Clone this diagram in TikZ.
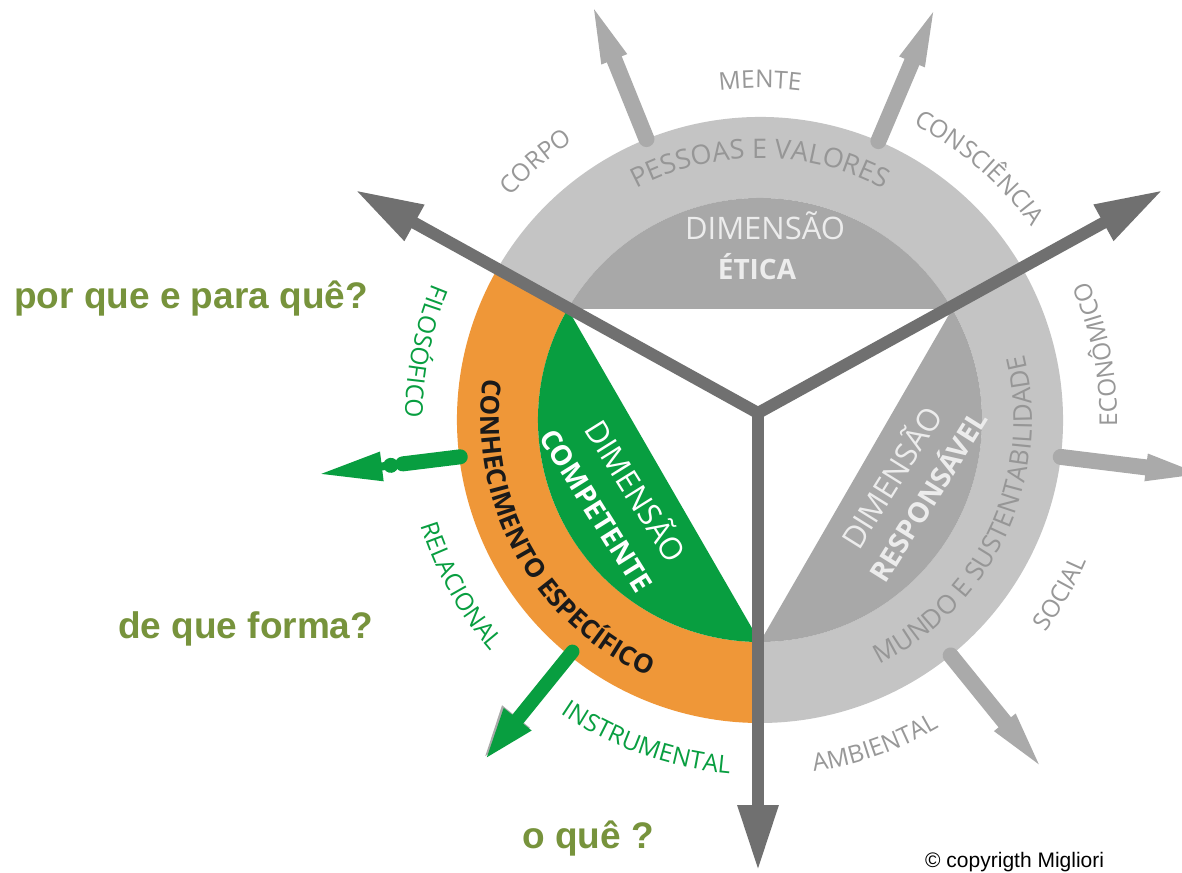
\documentclass[tikz,border=0pt]{standalone}
\usepackage{fontspec}
\setmainfont{Open Sans}
\newfontfamily\osf{Open Sans}
\newfontfamily\arialf{Liberation Sans}
\usetikzlibrary{arrows.meta,decorations.text}

\definecolor{ringgray}{RGB}{196,196,196}
\definecolor{seggray}{RGB}{168,168,168}
\definecolor{axisgray}{RGB}{112,112,112}
\definecolor{arrgray}{RGB}{170,170,170}
\definecolor{lblgray}{RGB}{152,152,152}
\definecolor{ringtxt}{RGB}{150,150,150}
\definecolor{orangec}{RGB}{239,151,56}
\definecolor{greenc}{RGB}{8,158,64}
\definecolor{olivec}{RGB}{119,147,60}
\definecolor{lighttxt}{RGB}{236,236,236}
\definecolor{darktxt}{RGB}{26,26,26}

\newcommand\fLbl{\osf\fontsize{24.5}{29}\selectfont}
\newcommand\fRing{\osf\fontsize{27}{32}\selectfont}
\newcommand\fRingB{\osf\bfseries\fontsize{26}{31}\selectfont}
\newcommand\fMundo{\osf\fontsize{26}{31}\selectfont}

\newcommand\cwtext[5]{\path[decorate,decoration={text along path,text align=center,text color=#3,text={|#4|#5}}] (#1+50:#2) arc[start angle=#1+50,end angle=#1-50,radius=#2];}
\newcommand\ccwtext[5]{\path[decorate,decoration={text along path,text align=center,text color=#3,text={|#4|#5}}] (#1-50:#2) arc[start angle=#1-50,end angle=#1+50,radius=#2];}

\newcommand\grayarrow[1]{%
  \begin{scope}[rotate=#1]
    \draw[line width=16pt, line cap=round, arrgray] (303,0) -- (395,0);
    \fill[arrgray] (389,-14) -- (443,0) -- (389,14) -- cycle;
  \end{scope}}

\begin{document}
\begin{tikzpicture}[x=1pt,y=1pt,
  axisline/.style={line width=12pt, draw=axisgray, line join=miter},
  dimtxt/.style={font=\osf\fontsize{31}{36}\selectfont, inner sep=0pt, anchor=base},
  dimtxtb/.style={font=\osf\bfseries\fontsize{28}{33}\selectfont, inner sep=0pt, anchor=base},
  question/.style={font=\arialf\bfseries\fontsize{37}{44}\selectfont, text=olivec, inner sep=0pt, anchor=base west}]
\useasboundingbox (-760,-452) rectangle (422,420);
\fill[white] (-760,-452) rectangle (422,420);

% ring
\fill[ringgray] (150:303) arc[start angle=150, end angle=-90, radius=303] -- (-90:222) arc[start angle=-90, end angle=150, radius=222] -- cycle;
\fill[orangec] (150:303) arc[start angle=150, end angle=270, radius=303] -- (270:222) arc[start angle=270, end angle=150, radius=222] -- cycle;

% inner segments
\fill[seggray] (30:222) arc[start angle=30, end angle=150, radius=222] -- cycle;
\fill[greenc] (150:222) arc[start angle=150, end angle=270, radius=222] -- cycle;
\fill[seggray] (270:222) arc[start angle=270, end angle=390, radius=222] -- cycle;

% ring texts
\cwtext{90}{262}{ringtxt}{\fRing}{PESSOAS E VALORES}
\ccwtext{-25}{272}{ringtxt}{\fMundo}{MUNDO E SUSTENTABILIDADE}
\ccwtext{209}{279}{darktxt}{\fRingB}{CONHECIMENTO ESPECÍFICO}

% small arrows
\grayarrow{112}
\grayarrow{67}
\grayarrow{-7}
\grayarrow{-51}
\begin{scope}[rotate=187]
  \draw[line width=15pt, line cap=round, greenc] (302,0) -- (360,0);
  \draw[line width=8pt, greenc] (355,0) -- (383,0);
  \fill[greenc] (372,0) circle[radius=7.5];
  \fill[greenc] (381,-15) -- (442,0) -- (381,15) -- cycle;
\end{scope}
\begin{scope}[rotate=-129]
  \fill[arrgray] (384,-21) -- (434,-2) -- (384,15) -- cycle;
  \draw[line width=14pt, line cap=round, greenc] (298,0) -- (392,0);
  \fill[greenc] (385,-18) -- (434,0) -- (385,18) -- cycle;
\end{scope}

% dimension texts
\node[dimtxt, text=lighttxt] (eticaA) at (5,180) {DIMENSÃO};
\node[dimtxtb, text=lighttxt] (eticaB) at (-3,140) {ÉTICA};
\begin{scope}[shift={(-145,-79)}, rotate=-58]
  \node[dimtxt, text=white, transform shape] (compA) at (4,10) {DIMENSÃO};
  \node[dimtxtb, text=white, transform shape] (compB) at (0,-32) {COMPETENTE};
\end{scope}
\begin{scope}[shift={(152,-66)}, rotate=58]
  \node[dimtxt, text=lighttxt, transform shape] (respA) at (-4,10) {DIMENSÃO};
  \node[dimtxtb, text=lighttxt, transform shape] (respB) at (0,-30) {RESPONSÁVEL};
\end{scope}

% axes
\coordinate (J) at (-2,7);
\coordinate (UL) at (-405,230);
\coordinate (UR) at (403,230);
\coordinate (DN) at (-2,-451);
\draw[axisline, {Triangle[length=68pt,width=38pt]}-{Triangle[length=68pt,width=38pt]}] (UL) -- (J) -- (UR);
\draw[axisline, -{Triangle[length=66pt,width=38pt]}] (J) -- (DN);

% outer labels
\cwtext{131}{335}{lblgray}{\fLbl}{CORPO}
\cwtext{90}{332}{lblgray}{\fLbl}{MENTE}
\cwtext{49}{333}{lblgray}{\fLbl}{CONSCIÊNCIA}
\ccwtext{11}{357}{lblgray}{\fLbl}{ECONÔMICO}
\ccwtext{-30}{356}{lblgray}{\fLbl}{SOCIAL}
\ccwtext{-70.5}{356}{lblgray}{\fLbl}{AMBIENTAL}
\ccwtext{-109.5}{355}{greenc}{\fLbl}{INSTRUMENTAL}
\ccwtext{209}{355}{greenc}{\fLbl}{RELACIONAL}
\ccwtext{168.5}{355}{greenc}{\fLbl}{FILOSÓFICO}

% questions
\node[question] (q1) at (-746,111) {por que e para quê?};
\node[question] (q2) at (-642,-218) {de que forma?};
\node[question] (q3) at (-238,-428) {o quê ?};
\node[font=\arialf\fontsize{21}{25}\selectfont, inner sep=0pt, anchor=base west] (copy) at (165,-447) {© copyrigth Migliori};
\end{tikzpicture}
\end{document}
